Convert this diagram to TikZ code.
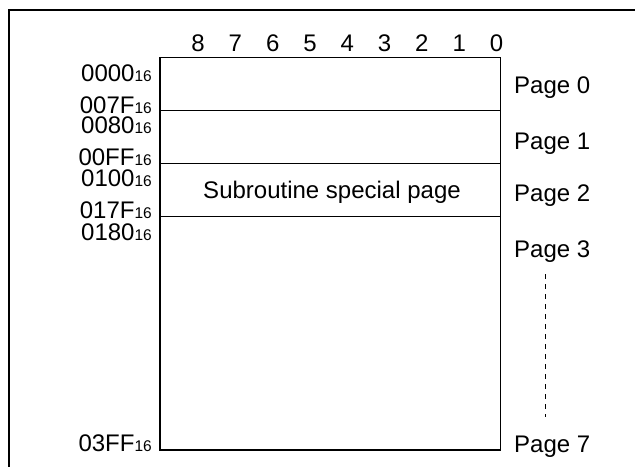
\documentclass[tikz,border=0pt]{standalone}
\usepackage{fontspec}
\setmainfont{Liberation Sans}
\usetikzlibrary{positioning}

\newcommand\hexsub[1]{#1{\fontsize{15.5}{15.5}\selectfont 16}}

\begin{document}
\begin{tikzpicture}[x=1pt,y=-1pt,
		lbl/.style={inner sep=0pt,font=\fontsize{24}{24}\selectfont},
		addr/.style={lbl,anchor=base east},
		pagelbl/.style={lbl,anchor=base west},
		divider/.style={line width=1.3pt},
		pagedash/.style={line width=1pt,dash pattern=on 5pt off 5pt}]
		\useasboundingbox (0,0) rectangle (635,467);
		% frame
		\draw[line width=2pt] (635,10) -- (9,10) -- (9,467);
		% memory block
		\draw[line width=1.6pt] (160,57.5) rectangle (500.5,450);
		\draw[divider] (160,110.7) -- (500.5,110.7);
		\draw[divider] (160,163.7) -- (500.5,163.7);
		\draw[divider] (160,216.7) -- (500.5,216.7);
		\node[lbl,anchor=base] (special) at (332,198.5) {Subroutine special page};
		% bit numbers
		\foreach \b in {0,...,8}
			\node[lbl,anchor=base] (bit\b) at (496.5-37.3*\b,51) {\b};
		% addresses
		\node[addr] (a0000) at (152,81) {\hexsub{0000}};
		\node[addr] (a007F) at (152,113.3) {\hexsub{007F}};
		\node[addr] (a0080) at (152,133.3) {\hexsub{0080}};
		\node[addr] (a00FF) at (152,165.7) {\hexsub{00FF}};
		\node[addr] (a0100) at (152,186.7) {\hexsub{0100}};
		\node[addr] (a017F) at (152,218.3) {\hexsub{017F}};
		\node[addr] (a0180) at (152,240.3) {\hexsub{0180}};
		\node[addr] (a03FF) at (152,451.5) {\hexsub{03FF}};
		% pages
		\node[pagelbl] (page0) at (514,93.5) {Page 0};
		\node[pagelbl] (page1) at (514,149.5) {Page 1};
		\node[pagelbl] (page2) at (514,201.5) {Page 2};
		\node[pagelbl] (page3) at (514,257) {Page 3};
		\node[pagelbl] (page7) at (514,452) {Page 7};
		\coordinate (dtop) at (545.7,274);
		\coordinate (dbot) at (545.7,417);
		\draw[pagedash] (dtop) -- (dbot);
\end{tikzpicture}
\end{document}
